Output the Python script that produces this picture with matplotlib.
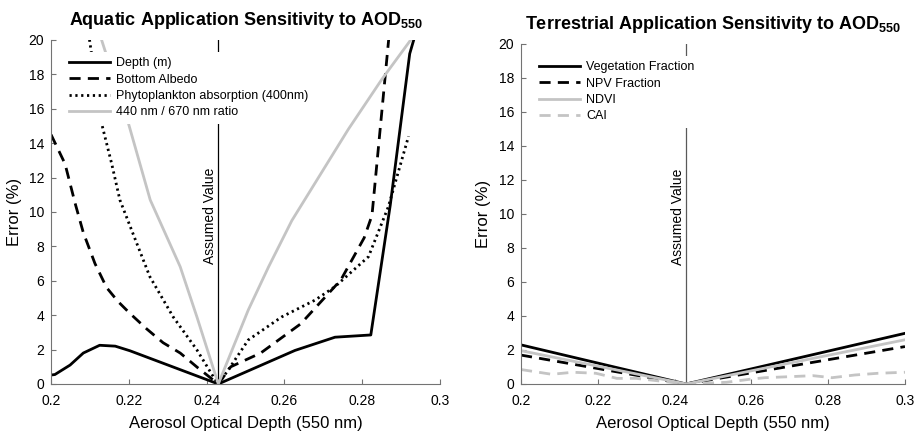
import matplotlib
matplotlib.use('Agg')
import matplotlib.pyplot as plt

plt.rcParams['font.family'] = ['Liberation Sans', 'DejaVu Sans']
plt.rcParams['mathtext.fontset'] = 'custom'
plt.rcParams['mathtext.rm'] = 'Liberation Sans'
plt.rcParams['mathtext.bf'] = 'Liberation Sans:bold'

assumed_aod = 0.243

# aquatic panel
depth_x = [0.2, 0.201, 0.2049, 0.2083, 0.2125, 0.2165, 0.2203, 0.243, 0.2627, 0.273, 0.2822, 0.2872, 0.2922, 0.294]
depth_y = [0.52, 0.55, 1.1, 1.8, 2.25, 2.2, 1.93, 0.0, 1.95, 2.72, 2.85, 10.4, 19.2, 20.6]

albedo_x = [0.2, 0.2036, 0.2062, 0.2083, 0.2113, 0.2143, 0.2172, 0.2203, 0.2246, 0.2288, 0.2332, 0.2378, 0.243,
            0.2462, 0.2539, 0.2642, 0.2745, 0.2805, 0.2825, 0.2872]
albedo_y = [14.5, 12.8, 10.5, 8.8, 7.0, 5.6, 4.8, 4.1, 3.2, 2.4, 1.8, 0.93, 0.0,
            1.0, 1.8, 3.5, 6.05, 8.5, 9.8, 21.0]

phyto_x = [0.2, 0.2099, 0.213, 0.2156, 0.2177, 0.222, 0.2254, 0.2314, 0.2375, 0.2417, 0.243,
           0.2455, 0.2507, 0.2593, 0.2679, 0.273, 0.2816, 0.2867, 0.2919]
phyto_y = [40.0, 20.0, 15.15, 12.8, 10.7, 8.2, 6.24, 3.9, 1.98, 0.43, 0.0,
           0.8, 2.56, 3.9, 4.88, 5.66, 7.4, 10.3, 14.4]

ratio_x = [0.2, 0.213, 0.2199, 0.2255, 0.2332, 0.2375, 0.243,
           0.2507, 0.2559, 0.2619, 0.2764, 0.285, 0.2931]
ratio_y = [30.0, 20.0, 15.15, 10.7, 6.82, 3.9, 0.0,
           4.3, 6.8, 9.5, 14.8, 17.7, 20.2]

# terrestrial panel
terr_x = [0.2, 0.243, 0.3]
veg_y = [2.3, 0.0, 2.98]
npv_y = [1.7, 0.0, 2.2]
ndvi_y = [1.96, 0.0, 2.6]

cai_x = [0.2, 0.208, 0.2135, 0.2195, 0.225, 0.23, 0.2375, 0.243,
         0.2535, 0.26, 0.2635, 0.27, 0.276, 0.281, 0.287, 0.293, 0.3]
cai_y = [0.85, 0.57, 0.69, 0.63, 0.33, 0.33, 0.14, 0.0,
         0.1, 0.29, 0.37, 0.43, 0.49, 0.37, 0.53, 0.63, 0.69]

xticks = [0.2, 0.22, 0.24, 0.26, 0.28, 0.3]
xticklabels = ['0.2', '0.22', '0.24', '0.26', '0.28', '0.3']
yticks = list(range(0, 21, 2))

gray = '#c4c4c4'
dash = (0, (4, 2.6))
dot = (0, (0.8, 1.3))


def style_axes(ax, title, line_color):
    ax.axvline(assumed_aod, color=line_color, lw=0.9, zorder=1)
    ax.text(assumed_aod - 0.0004, 7.0, 'Assumed Value', rotation=90, ha='right', va='bottom', fontsize=10)
    ax.set_xlim(0.2, 0.3)
    ax.set_ylim(0, 20)
    ax.set_xticks(xticks)
    ax.set_xticklabels(xticklabels)
    ax.set_yticks(yticks)
    ax.tick_params(direction='in', length=3.5, width=0.8, color='0.45', labelsize=10)
    ax.tick_params(axis='x', pad=7)
    ax.tick_params(axis='y', pad=5)
    for side in ['top', 'right']:
        ax.spines[side].set_visible(False)
    for side in ['left', 'bottom']:
        ax.spines[side].set_color('0.45')
        ax.spines[side].set_linewidth(0.8)
    ax.set_xlabel('Aerosol Optical Depth (550 nm)', fontsize=12, labelpad=6)
    ax.set_ylabel('Error (%)', fontsize=12, labelpad=5)
    ax.set_title(title, fontsize=13, fontweight='bold', pad=11)
    leg = ax.legend(loc='upper left', fontsize=9, frameon=True, framealpha=1, edgecolor='none',
                    facecolor='white', fancybox=False, handlelength=3.3, handletextpad=0.5,
                    labelspacing=0.34, borderpad=0.45, borderaxespad=0.95)
    leg.set_zorder(5)


fig = plt.figure(figsize=(9.21, 4.33), dpi=100)
ax1 = fig.add_axes([0.0554, 0.1132, 0.4224, 0.7945])
ax2 = fig.add_axes([0.5657, 0.1132, 0.4169, 0.7852])

ax1.plot(depth_x, depth_y, color='black', lw=2, label='Depth (m)')
ax1.plot(albedo_x, albedo_y, color='black', lw=2, linestyle=dash, label='Bottom Albedo')
ax1.plot(phyto_x, phyto_y, color='black', lw=2, linestyle=dot, label='Phytoplankton absorption (400nm)')
ax1.plot(ratio_x, ratio_y, color=gray, lw=2, label='440 nm / 670 nm ratio')
style_axes(ax1, r'Aquatic Application Sensitivity to AOD$_{\mathbf{550}}$', 'black')

ax2.plot(terr_x, veg_y, color='black', lw=2, label='Vegetation Fraction')
ax2.plot(terr_x, npv_y, color='black', lw=2, linestyle=dash, label='NPV Fraction')
ax2.plot(terr_x, ndvi_y, color=gray, lw=2, label='NDVI')
ax2.plot(cai_x, cai_y, color=gray, lw=2, linestyle=dash, label='CAI')
style_axes(ax2, r'Terrestrial Application Sensitivity to AOD$_{\mathbf{550}}$', '0.35')

fig.savefig('out.png', dpi=100)
